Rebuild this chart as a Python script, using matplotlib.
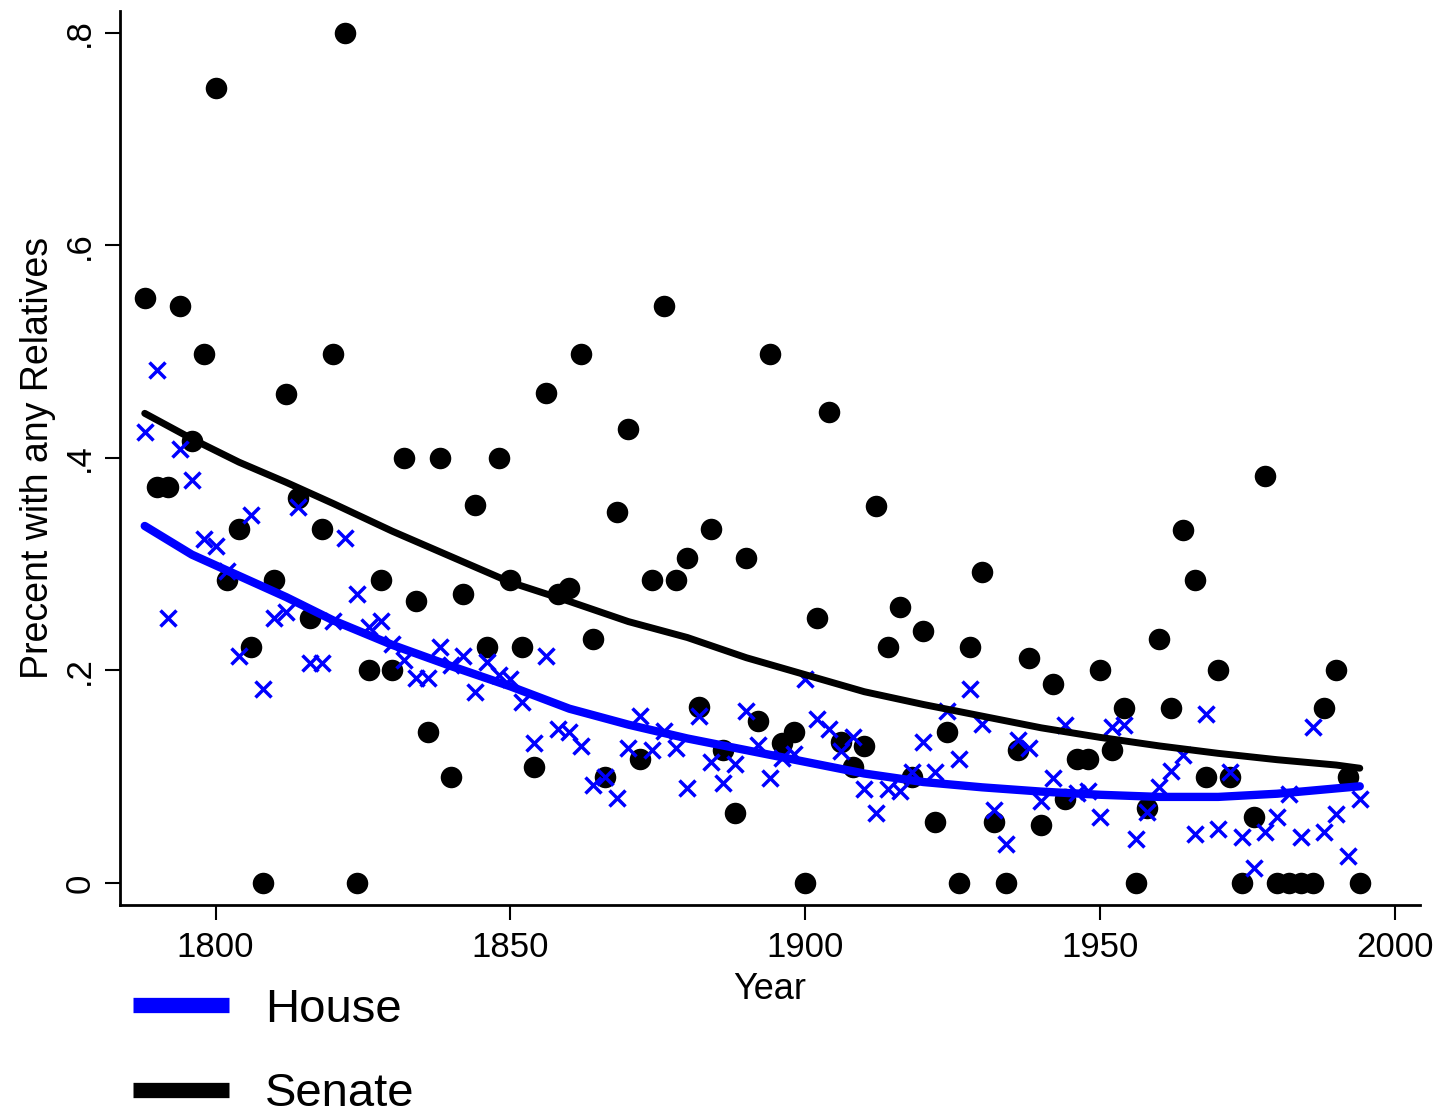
import matplotlib
matplotlib.use("Agg")
import matplotlib.pyplot as plt
from matplotlib.lines import Line2D

plt.rcParams['font.family'] = ['Liberation Sans', 'DejaVu Sans']

# congress years (every two years)
years = list(range(1788, 1996, 2))

# share of senators with any relatives in congress
senate = [0.551, 0.373, 0.373, 0.543, 0.416, 0.498, 0.748, 0.285, 0.333, 0.222,
          0.0, 0.285, 0.460, 0.362, 0.249, 0.333, 0.498, 0.800, 0.0, 0.200,
          0.285, 0.200, 0.400, 0.265, 0.142, 0.400, 0.100, 0.272, 0.356, 0.222,
          0.400, 0.285, 0.222, 0.109, 0.461, 0.272, 0.278, 0.498, 0.230, 0.100,
          0.349, 0.427, 0.117, 0.285, 0.543, 0.285, 0.306, 0.166, 0.333, 0.125,
          0.066, 0.306, 0.152, 0.498, 0.132, 0.142, 0.0, 0.249, 0.443, 0.133,
          0.109, 0.129, 0.355, 0.222, 0.260, 0.100, 0.237, 0.057, 0.142, 0.0,
          0.222, 0.293, 0.057, 0.0, 0.125, 0.212, 0.055, 0.187, 0.079, 0.117,
          0.117, 0.200, 0.125, 0.165, 0.0, 0.071, 0.230, 0.165, 0.332, 0.285,
          0.100, 0.200, 0.100, 0.0, 0.062, 0.383, 0.0, 0.0, 0.0, 0.0,
          0.165, 0.200, 0.100, 0.0]

# share of representatives with any relatives in congress
house = [0.424, 0.483, 0.249, 0.408, 0.379, 0.324, 0.317, 0.294, 0.214, 0.346,
         0.183, 0.249, 0.255, 0.354, 0.207, 0.207, 0.247, 0.325, 0.272, 0.241,
         0.247, 0.225, 0.210, 0.193, 0.193, 0.222, 0.205, 0.214, 0.180, 0.208,
         0.196, 0.192, 0.170, 0.132, 0.214, 0.145, 0.142, 0.129, 0.092, 0.100,
         0.080, 0.127, 0.157, 0.125, 0.143, 0.127, 0.089, 0.157, 0.114, 0.094,
         0.112, 0.162, 0.130, 0.099, 0.118, 0.121, 0.192, 0.154, 0.145, 0.124,
         0.137, 0.088, 0.066, 0.088, 0.087, 0.104, 0.133, 0.104, 0.162, 0.117,
         0.183, 0.150, 0.069, 0.037, 0.135, 0.127, 0.077, 0.099, 0.149, 0.085,
         0.087, 0.062, 0.147, 0.149, 0.041, 0.067, 0.090, 0.105, 0.120, 0.046,
         0.159, 0.051, 0.104, 0.043, 0.014, 0.048, 0.062, 0.084, 0.043, 0.147,
         0.048, 0.065, 0.025, 0.079]

# smoothed (lowess) trend lines
fit_years = [1788, 1796, 1804, 1812, 1820, 1830, 1840, 1850, 1860, 1870, 1880,
             1890, 1900, 1910, 1920, 1930, 1940, 1950, 1960, 1970, 1980, 1990, 1994]
senate_fit = [0.442, 0.418, 0.396, 0.377, 0.357, 0.331, 0.307, 0.283, 0.265,
              0.246, 0.231, 0.212, 0.196, 0.180, 0.168, 0.157, 0.146, 0.137,
              0.129, 0.122, 0.116, 0.111, 0.108]
house_fit = [0.336, 0.309, 0.289, 0.269, 0.247, 0.224, 0.204, 0.185, 0.164,
             0.149, 0.136, 0.125, 0.114, 0.103, 0.095, 0.090, 0.086, 0.083,
             0.081, 0.081, 0.084, 0.089, 0.091]

x_ticks = [1800, 1850, 1900, 1950, 2000]
y_ticks = [0, 0.2, 0.4, 0.6, 0.8]
y_tick_labels = ['0', '.2', '.4', '.6', '.8']

fig = plt.figure(figsize=(14.47, 11.2), dpi=100)
ax = fig.add_axes([0.0829, 0.192, 0.8984, 0.7982])

ax.plot(years, senate, 'o', color='black', ms=15.5, mew=0, zorder=2)
ax.plot(years, house, 'x', color='#0000ff', ms=12, mew=2.5, zorder=3)
ax.plot(fit_years, house_fit, color='#0000ff', lw=6,
        solid_capstyle='round', solid_joinstyle='round', zorder=4)
ax.plot(fit_years, senate_fit, color='black', lw=5,
        solid_capstyle='round', solid_joinstyle='round', zorder=5)

ax.set_xlim(1783.8, 2004.2)
ax.set_ylim(-0.0207, 0.8207)
ax.set_xticks(x_ticks)
ax.set_yticks(y_ticks)
ax.set_yticklabels(y_tick_labels, rotation=90, va='center')

for side in ['top', 'right']:
    ax.spines[side].set_visible(False)
for side in ['left', 'bottom']:
    ax.spines[side].set_linewidth(2)

ax.tick_params(axis='both', length=11, width=1.5, labelsize=25)
ax.tick_params(axis='x', pad=8)
ax.tick_params(axis='y', pad=6)

ax.set_xlabel('Year', fontsize=26, labelpad=5.5)
ax.set_ylabel('Precent with any Relatives', fontsize=27, labelpad=5)

handles = [Line2D([], [], color='#0000ff', lw=11, solid_capstyle='butt'),
           Line2D([], [], color='black', lw=11, solid_capstyle='butt')]
fig.legend(handles, ['House', 'Senate'], loc='upper left',
           bbox_to_anchor=(133 / 1447, 1 - 988 / 1120), frameon=False,
           fontsize=34, handlelength=2.03, handletextpad=0.76,
           labelspacing=0.85, borderpad=0, borderaxespad=0)

fig.savefig('out.png', dpi=100)
